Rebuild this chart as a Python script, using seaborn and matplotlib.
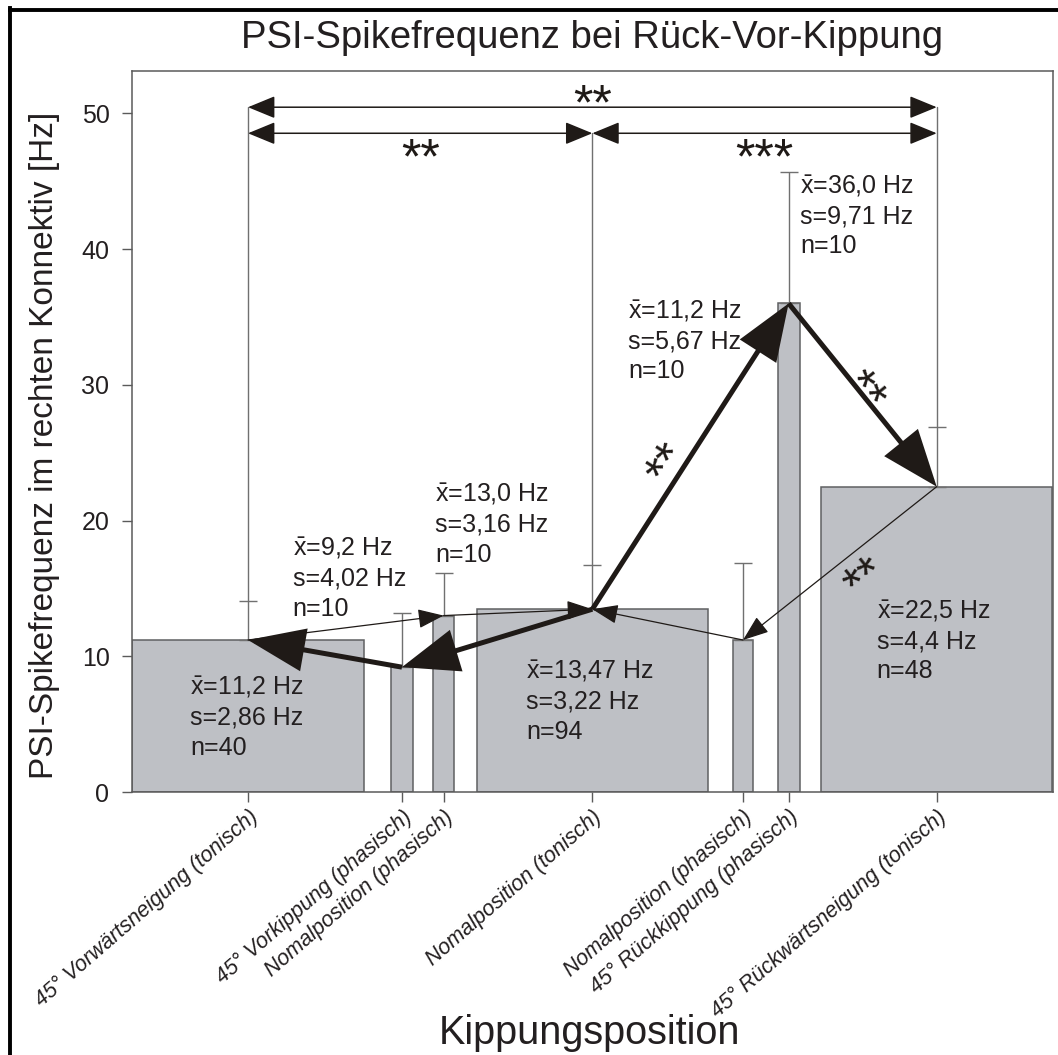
import numpy as np
import pandas as pd
import matplotlib
matplotlib.use("Agg")
import matplotlib.pyplot as plt
from matplotlib.lines import Line2D
import seaborn as sns

# ---------------- data ----------------
categories = ["45° Vorwärtsneigung (tonisch)", "45° Vorkippung (phasisch)",
              "Nomalposition (phasisch)", "Nomalposition (tonisch)",
              "Nomalposition (phasisch)", "45° Rückkippung (phasisch)",
              "45° Rückwärtsneigung (tonisch)"]
means = [11.2, 9.2, 13.0, 13.47, 11.2, 36.0, 22.5]
sds = [2.86, 4.02, 3.16, 3.22, 5.67, 9.71, 4.4]
ns = [40, 10, 10, 94, 10, 10, 48]
mean_labels = ["11,2", "9,2", "13,0", "13,47", "11,2", "36,0", "22,5"]
sd_labels = ["2,86", "4,02", "3,16", "3,22", "5,67", "9,71", "4,4"]
y_ticks = [0, 10, 20, 30, 40, 50]

# ---------------- layout ----------------
positions = [0.0, 0.447, 0.568, 1.0, 1.4375, 1.570, 2.0]
widths = [0.671, 0.062, 0.062, 0.671, 0.059, 0.064, 0.671]
label_pos = [(-0.168, 7.15), (0.130, 17.39), (0.543, 21.39), (0.807, 8.33),
             (1.104, 34.91), (1.603, 44.12), (1.826, 12.80)]
bold_links = [(3, 1), (1, 0), (3, 5), (5, 6)]
thin_links = [(0, 2), (2, 3), (4, 3), (6, 4)]

sns.set_style("white")
plt.rcParams["font.family"] = ["Liberation Sans", "DejaVu Sans"]
plt.rcParams["mathtext.fontset"] = "custom"
plt.rcParams["mathtext.rm"] = "Liberation Sans"
plt.rcParams["mathtext.it"] = "Liberation Sans:italic"

TXT = "#231f20"
GREY = "#5a5a5a"
BAR = "#bec0c5"

W, H = 1058, 1055
fig = plt.figure(figsize=(W / 100, H / 100), dpi=100)
ax = fig.add_axes([132 / W, 1 - 792 / H, (1053 - 132) / W, (792 - 70.7) / H])

df = pd.DataFrame({"pos": positions, "mean": means})
sns.barplot(data=df, x="pos", y="mean", native_scale=True, color=BAR,
            saturation=1, edgecolor="#5f6062", linewidth=1.1, errorbar=None,
            ax=ax, zorder=2)
pos_arr = np.array(positions)
for p in ax.patches:
    cx = p.get_x() + p.get_width() / 2
    i = int(np.argmin(np.abs(pos_arr - cx)))
    p.set_width(widths[i])
    p.set_x(positions[i] - widths[i] / 2)

ax.errorbar(positions, means, yerr=[np.zeros(len(sds)), sds], fmt="none",
            ecolor="#707070", elinewidth=1.0, capsize=6.8, capthick=1.0, zorder=2.5)

ax.set_xlim(-0.3369, 2.3377)
ax.set_ylim(0, 53.15)
ax.set_yticks(y_ticks)
ax.set_yticklabels([str(t) for t in y_ticks], fontsize=18, color=TXT)
ax.set_xticks(positions)
ax.set_xticklabels(categories, rotation=41, ha="right", va="top",
                   rotation_mode="anchor", fontsize=15.5, color=TXT,
                   fontstyle="italic")
ax.tick_params(axis="both", direction="out", length=7.2, width=1, color=GREY,
               left=True, bottom=True)
ax.tick_params(axis="y", pad=9)
ax.tick_params(axis="x", pad=3)
ax.set_xlabel("")
ax.set_ylabel("")
for s in ax.spines.values():
    s.set_visible(True)
    s.set_color(GREY)
    s.set_linewidth(1.1)
ax.grid(False)

# statistics labels
for i, (lx, ly) in enumerate(label_pos):
    lines = [r"$\bar{\mathrm{x}}$=" + mean_labels[i] + " Hz",
             "s=" + sd_labels[i] + " Hz", "n=" + str(ns[i])]
    for k, t in enumerate(lines):
        ax.annotate(t, xy=(lx, ly), xytext=(0, -k * 21.6), textcoords="offset points",
                    ha="left", va="baseline", fontsize=18, color=TXT, zorder=4)

# arrows between bar tops
for a, b in bold_links:
    ax.annotate("", xy=(positions[b], means[b]), xytext=(positions[a], means[a]),
                arrowprops=dict(arrowstyle="-|>,head_length=1.7,head_width=0.65",
                                lw=3.6, color="#1f1a17", shrinkA=0, shrinkB=0,
                                mutation_scale=20, joinstyle="miter", capstyle="butt"),
                zorder=6)
for a, b in thin_links:
    ax.annotate("", xy=(positions[b], means[b]), xytext=(positions[a], means[a]),
                arrowprops=dict(arrowstyle="-|>,head_length=0.8,head_width=0.3",
                                lw=0.9, color="#1f1a17", shrinkA=0, shrinkB=0,
                                mutation_scale=20),
                zorder=5)

# significance brackets
top_y, low_y = 50.46, 48.54
brackets = [(0, 6, top_y), (0, 3, low_y), (3, 6, low_y)]
for a, b, yy in brackets:
    ax.annotate("", xy=(positions[b], yy), xytext=(positions[a], yy),
                arrowprops=dict(arrowstyle="<|-|>,head_length=0.85,head_width=0.35",
                                lw=1.1, color="#1f1a17", shrinkA=0, shrinkB=0,
                                mutation_scale=20), zorder=5)
for i, yy in [(0, top_y), (3, low_y), (6, top_y)]:
    ax.plot([positions[i], positions[i]], [means[i] + sds[i], yy],
            color="#707070", lw=1.0, zorder=2.5)

SFS = 36
STAR = dict(fontsize=SFS, color="#1f1a17", ha="center", va="baseline", zorder=7)
ax.text(1.0, 49.55, "**", **STAR)
ax.text(0.5, 45.55, "**", **STAR)
ax.text(1.5, 45.55, "***", **STAR)

for (cx, cy, rot) in [(1.1906, 24.6, 57.3), (1.812, 29.99, -51.3), (1.771, 16.36, 38.4)]:
    th = np.deg2rad(rot)
    off = 0.52 * SFS
    ax.annotate("**", xy=(cx, cy), xytext=(off * np.sin(th), -off * np.cos(th)),
                textcoords="offset points", rotation=rot, rotation_mode="anchor",
                fontsize=SFS, color="#1f1a17", ha="center", va="baseline", zorder=7)

# titles
fig.text(592 / W, 1 - 38 / H, "PSI-Spikefrequenz bei Rück-Vor-Kippung",
         ha="center", va="center", fontsize=27.5, color=TXT)
fig.text(45 / W, 1 - 445 / H, "PSI-Spikefrequenz im rechten Konnektiv [Hz]",
         ha="center", va="center", rotation=90, fontsize=24, color=TXT)
fig.text(590 / W, 1 - 1033 / H, "Kippungsposition",
         ha="center", va="center", fontsize=28.5, color=TXT)

# outer black border (left and top)
fig.add_artist(Line2D([10 / W, 10 / W], [0, 1 - 8 / H], color="black", lw=2.8,
                      transform=fig.transFigure, solid_capstyle="projecting"))
fig.add_artist(Line2D([10 / W, 1], [1 - 9.5 / H, 1 - 9.5 / H], color="black", lw=2.8,
                      transform=fig.transFigure, solid_capstyle="projecting"))

fig.savefig("out.png", dpi=100, facecolor="white")
